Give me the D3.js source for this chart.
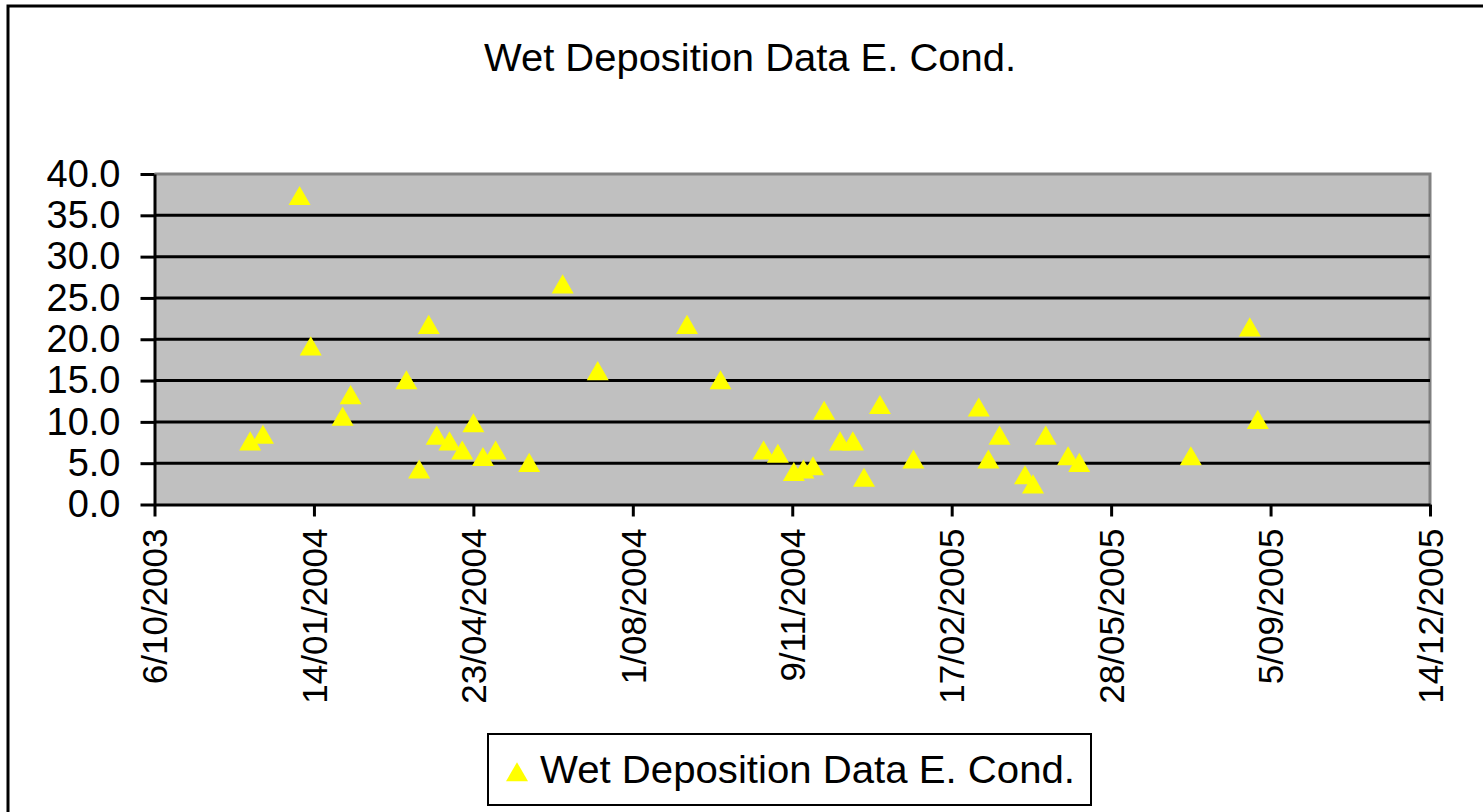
<!DOCTYPE html>
<html>
<head>
    <meta charset="utf-8">
    <title>Wet Deposition Data E. Cond.</title>
    <script src="https://d3js.org/d3.v7.min.js"></script>
    <style>
        body { margin: 0; background: #fff; }
        svg { display: block; font-family: "Liberation Sans", Arial, sans-serif; }
        .grid line { stroke: #000; stroke-width: 3px; }
        .axis text { fill: #000; }
        .axis path, .axis line { stroke: #000; stroke-width: 3px; }
    </style>
</head>
<body>
<div id="chart"></div>
<script>
    // sample dates (day/month/year) and E. Cond. readings
    const sampleDates = [
        "5/12/2003", "13/12/2003", "5/01/2004", "12/01/2004", "1/02/2004", "6/02/2004",
        "12/03/2004", "20/03/2004", "26/03/2004", "31/03/2004", "8/04/2004", "16/04/2004",
        "23/04/2004", "29/04/2004", "7/05/2004", "28/05/2004", "18/06/2004", "10/07/2004",
        "4/09/2004", "25/09/2004", "22/10/2004", "31/10/2004", "10/11/2004", "16/11/2004",
        "22/11/2004", "29/11/2004", "9/12/2004", "17/12/2004", "24/12/2004", "3/01/2005",
        "24/01/2005", "6/03/2005", "12/03/2005", "19/03/2005", "4/04/2005", "9/04/2005",
        "17/04/2005", "1/05/2005", "8/05/2005", "17/07/2005", "23/08/2005", "28/08/2005"
    ];
    const econd = [
        7.7, 8.5, 37.4, 19.2, 10.7, 13.3,
        15.1, 4.3, 21.8, 8.4, 7.7, 6.6,
        9.9, 5.8, 6.6, 5.1, 26.7, 16.2,
        21.8, 15.1, 6.6, 6.2, 4.0, 4.3,
        4.7, 11.4, 7.7, 7.7, 3.3, 12.1,
        5.5, 11.8, 5.5, 8.4, 3.6, 2.5,
        8.4, 5.9, 5.1, 5.9, 21.5, 10.3
    ];
    const xTickLabels = ["6/10/2003", "14/01/2004", "23/04/2004", "1/08/2004", "9/11/2004",
        "17/02/2005", "28/05/2005", "5/09/2005", "14/12/2005"];
    const yTicks = [0, 5, 10, 15, 20, 25, 30, 35, 40];
    const seriesName = "Wet Deposition Data E. Cond.";

    const parse = d3.utcParse("%d/%m/%Y");
    const data = sampleDates.map((d, i) => ({ date: parse(d), value: econd[i] }));
    const xTicks = xTickLabels.map(parse);

    const W = 1483, H = 812;
    const plot = { left: 154.5, right: 1430, top: 174, bottom: 504.5 };

    const svg = d3.select("#chart").append("svg")
        .attr("width", W).attr("height", H);

    // outer chart frame (right/bottom edges run off the page)
    svg.append("rect")
        .attr("x", 8).attr("y", 6)
        .attr("width", W + 20).attr("height", H + 20)
        .attr("fill", "#fff").attr("stroke", "#000").attr("stroke-width", 3);

    const x = d3.scaleUtc()
        .domain([xTicks[0], xTicks[xTicks.length - 1]])
        .range([plot.left, plot.right]);

    const y = d3.scaleLinear()
        .domain([0, 40])
        .range([plot.bottom, plot.top]);

    // plot background
    svg.append("rect")
        .attr("x", plot.left).attr("y", plot.top)
        .attr("width", plot.right - plot.left).attr("height", plot.bottom - plot.top)
        .attr("fill", "#c0c0c0");

    // grey plot border on top and right
    svg.append("path")
        .attr("d", `M${plot.left},${plot.top}H${plot.right}V${plot.bottom}`)
        .attr("fill", "none").attr("stroke", "#808080").attr("stroke-width", 3);

    // horizontal gridlines
    svg.append("g").attr("class", "grid")
        .selectAll("line")
        .data(yTicks.slice(1, -1))
        .join("line")
        .attr("x1", plot.left).attr("x2", plot.right)
        .attr("y1", d => y(d)).attr("y2", d => y(d));

    // y axis
    svg.append("g").attr("class", "axis")
        .attr("transform", `translate(${plot.left},0)`)
        .call(d3.axisLeft(y).tickValues(yTicks).tickSize(14).tickSizeOuter(0)
            .tickFormat(d3.format(".1f")).tickPadding(20))
        .selectAll("text").style("font-size", "38px");

    // x axis
    const xAxis = svg.append("g").attr("class", "axis")
        .attr("transform", `translate(0,${plot.bottom})`)
        .call(d3.axisBottom(x).tickValues(xTicks).tickSize(12).tickSizeOuter(0)
            .tickFormat((d, i) => xTickLabels[i]));

    xAxis.selectAll("text")
        .style("font-size", "35px")
        .attr("transform", "rotate(-90)")
        .attr("text-anchor", "end")
        .attr("x", -24)
        .attr("y", 0)
        .attr("dy", "0.35em");

    // triangle markers; d3 centres triangles on the centroid, Excel on the box
    const triSize = 210;
    const triShift = Math.sqrt(triSize * 4 / Math.sqrt(3)) * Math.sqrt(3) / 12;
    const tri = d3.symbol().type(d3.symbolTriangle).size(triSize);
    svg.append("g")
        .selectAll("path")
        .data(data)
        .join("path")
        .attr("d", tri)
        .attr("transform", d => `translate(${x(d.date)},${y(d.value) + triShift})`)
        .attr("fill", "#ffff00");

    // title
    svg.append("text")
        .attr("x", 750).attr("y", 71)
        .attr("text-anchor", "middle")
        .attr("textLength", 532)
        .attr("lengthAdjust", "spacingAndGlyphs")
        .style("font-size", "38px")
        .text(seriesName);

    // legend
    const legend = svg.append("g");
    legend.append("rect")
        .attr("x", 488).attr("y", 734)
        .attr("width", 603).attr("height", 71)
        .attr("fill", "#fff").attr("stroke", "#000").attr("stroke-width", 2);
    legend.append("path")
        .attr("d", tri)
        .attr("transform", "translate(517,775)")
        .attr("fill", "#ffff00");
    legend.append("text")
        .attr("x", 540).attr("y", 770)
        .attr("dy", "0.35em")
        .attr("textLength", 535)
        .attr("lengthAdjust", "spacingAndGlyphs")
        .style("font-size", "38px")
        .text(seriesName);
</script>
</body>
</html>
